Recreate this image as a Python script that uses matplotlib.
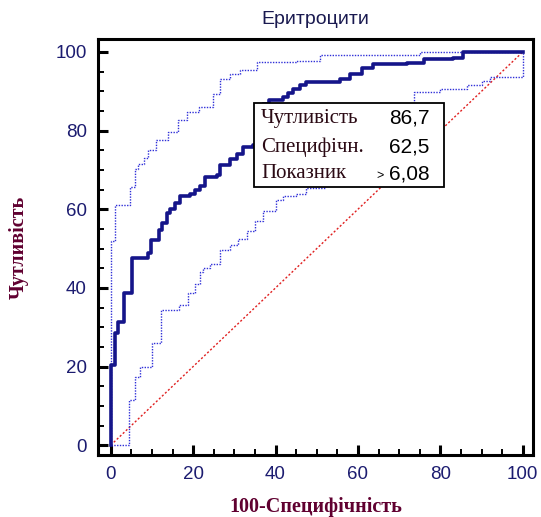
import matplotlib
matplotlib.use("Agg")
import matplotlib.pyplot as plt
from matplotlib.patches import Rectangle
from matplotlib.ticker import MultipleLocator

# ROC curve: (100-specificity, sensitivity) at the top of each riser
roc_fpr = [0, 0, 1.0, 1.8, 3.1, 5.1, 9.1, 9.8, 11.6, 12.4, 13.6, 14.4, 15.5, 16.8,
           19.2, 20.5, 21.7, 22.9, 25.7, 26.5, 28.9, 30.6, 32.2, 34.6, 35.4, 36.0,
           36.7, 37.0, 38.5, 41.9, 43.0, 44.3, 46.0, 47.5, 55.6, 58.0, 61.0, 63.7,
           71.8, 76.0, 83.0, 85.6, 100]
roc_tpr = [0, 20.4, 28.5, 31.4, 38.7, 47.6, 48.8, 52.2, 54.7, 56.4, 59.0, 60.0, 61.5,
           63.3, 64.0, 65.0, 66.0, 68.2, 68.6, 71.2, 72.9, 74.1, 75.8, 76.3, 78.8,
           81.0, 83.0, 86.7, 87.7, 88.5, 89.5, 90.7, 91.5, 92.4, 93.0, 94.5, 96.0,
           97.0, 97.3, 98.3, 98.5, 100, 100]

# confidence bounds
upper_fpr = [0, 0, 1.0, 3.8, 4.6, 5.9, 6.6, 8.0, 9.1, 11.1, 14.0, 16.4, 18.4, 21.3,
             24.9, 26.5, 29.0, 31.4, 35.4, 45.0, 50.8, 75.0, 100]
upper_tpr = [0, 52.0, 61.0, 61.2, 65.6, 70.3, 71.4, 73.0, 75.0, 77.5, 79.6, 82.6, 84.7,
             86.0, 89.4, 93.2, 94.5, 95.3, 97.5, 97.7, 99.2, 100, 100]

lower_fpr = [0, 4.5, 5.9, 7.1, 9.9, 12.3, 16.6, 18.8, 20.5, 21.7, 22.5, 24.1, 26.5,
             28.9, 31.0, 33.0, 35.0, 37.0, 40.2, 41.9, 45.0, 47.5, 52.0, 56.0, 60.0,
             64.0, 68.0, 70.6, 73.5, 80.0, 86.4, 90.0, 92.0, 100]
lower_tpr = [0, 11.5, 17.4, 19.9, 26.0, 34.4, 35.6, 38.6, 41.0, 44.0, 45.0, 46.2, 49.6,
             51.0, 52.5, 54.5, 57.0, 59.5, 62.3, 63.3, 64.0, 65.3, 68.0, 72.0, 76.0,
             80.0, 84.0, 86.4, 89.8, 90.5, 91.5, 92.5, 93.6, 100]

info_labels = ["Чутливість", "Специфічн.", "Показник"]
info_values = ["86,7", "62,5", "6,08"]

fig = plt.figure(figsize=(5.41, 5.17), dpi=100)
ax = fig.add_axes([98/541, 62/517, 435/541, 416/517])

ax.plot([0, 100], [0, 100], color="#e02020", lw=1.0, ls=(0, (1.5, 1.5)), zorder=2)
ax.plot(lower_fpr, lower_tpr, drawstyle="steps-post", color="#3030d8", lw=1.0,
        ls=(0, (1, 1)), zorder=3)
ax.plot(upper_fpr, upper_tpr, drawstyle="steps-post", color="#3030d8", lw=1.0,
        ls=(0, (1, 1)), zorder=3)
ax.plot(roc_fpr, roc_tpr, drawstyle="steps-post", color="#15158a", lw=2.6, zorder=4)

ax.set_xlim(-3.1, 102.5)
ax.set_ylim(-2.5, 103.3)

for s in ax.spines.values():
    s.set_linewidth(2.2)
ax.xaxis.set_major_locator(MultipleLocator(20))
ax.xaxis.set_minor_locator(MultipleLocator(5))
ax.yaxis.set_major_locator(MultipleLocator(20))
ax.yaxis.set_minor_locator(MultipleLocator(5))
ax.tick_params(which="major", direction="in", length=7, width=2.2,
               labelsize=13.5, labelcolor="#1c1c70", pad=8)
ax.tick_params(which="minor", direction="in", length=4, width=1.4)
for lab in ax.get_xticklabels() + ax.get_yticklabels():
    lab.set_family("Liberation Sans")

ax.set_title("Еритроцити", family="Liberation Sans", fontsize=14,
             color="#1a1a50", pad=11)
ax.set_xlabel("100-Специфічність", family="Liberation Serif", fontweight="bold",
              fontsize=14.5, color="#600030", labelpad=10)
ax.set_ylabel("Чутливість", family="Liberation Serif", fontweight="bold",
              fontsize=14.5, color="#600030", labelpad=19)

# info box
ax.add_patch(Rectangle((34.8, 65.6), 46.1, 21.4, facecolor="white",
                       edgecolor="black", lw=1.3, zorder=6))
rows_y = [83.2, 75.8, 69.0]
for lab, val, yy in zip(info_labels, info_values, rows_y):
    ax.text(36.5, yy, lab, family="Liberation Serif", fontsize=15,
            color="#2b0a14", va="center", ha="left", zorder=7)
    ax.text(77.3, yy, val, family="Liberation Sans", fontsize=15,
            color="black", va="center", ha="right", zorder=7)
ax.text(66.3, rows_y[2] - 0.6, ">", family="Liberation Sans", fontsize=9,
        color="black", va="center", ha="right", zorder=7)

fig.savefig("out.png", dpi=100)
